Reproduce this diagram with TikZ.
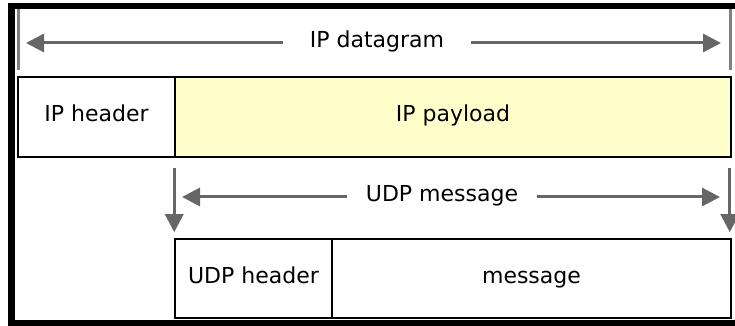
\documentclass[tikz,border=0pt]{standalone}
\usepackage{fontspec}
\setmainfont{DejaVu Sans}
\usetikzlibrary{arrows.meta,positioning}
\definecolor{payload}{HTML}{FFFFCC}
\definecolor{dimgray}{HTML}{666666}

\begin{document}
\begin{tikzpicture}[x=1pt,y=1pt,font=\fontsize{22}{26}\selectfont,
   every node/.style={text height=10pt,text depth=0pt},
   field/.style={draw,line width=1.5pt,minimum height=80pt,inner sep=0pt},
   span/.style={draw=dimgray,line width=3pt,-{Triangle[length=18pt,width=18pt]}},
   tick/.style={draw=gray,line width=3pt},
   frame/.style={draw,line width=6.5pt,miter limit=10}]
  \useasboundingbox (0,0) rectangle (735,326);
  % outer frame, open on the right
  \draw[frame] (735,320) -- (11.5,320) -- (11.5,3) -- (735,3);
  % IP datagram
  \node[field,minimum width=157pt] (iph) at (96.5,209) {IP header};
  \node[field,minimum width=556pt,fill=payload] (pl) at (453,209) {IP payload};
  \coordinate (dgL) at (26,283);
  \coordinate (dgR) at (721,283);
  \node[inner xsep=27pt] (dg) at (377,283) {IP datagram};
  \draw[span] (dg) -- (dgL);
  \draw[span] (dg) -- (dgR);
  \draw[tick] (18,317) -- (18,256);
  \draw[tick] (730,317) -- (730,256);
  % UDP message inside the payload
  \node[field,minimum width=157pt,minimum height=79pt] (udph) at (253.5,47.5) {UDP header};
  \node[field,minimum width=399pt,minimum height=79pt] (msg) at (531.5,47.5) {message};
  \coordinate (umL) at (182,129);
  \coordinate (umR) at (720,129);
  \node[inner xsep=19pt] (um) at (442,129) {UDP message};
  \draw[span] (um) -- (umL);
  \draw[span] (um) -- (umR);
  % payload boundaries carried down
  \draw[span] ([yshift=-10pt]pl.south west) -- ([yshift=6pt]udph.north west);
  \draw[span] ([xshift=-2pt,yshift=-10pt]pl.south east) -- ([xshift=-2pt,yshift=6pt]msg.north east);
\end{tikzpicture}
\end{document}
